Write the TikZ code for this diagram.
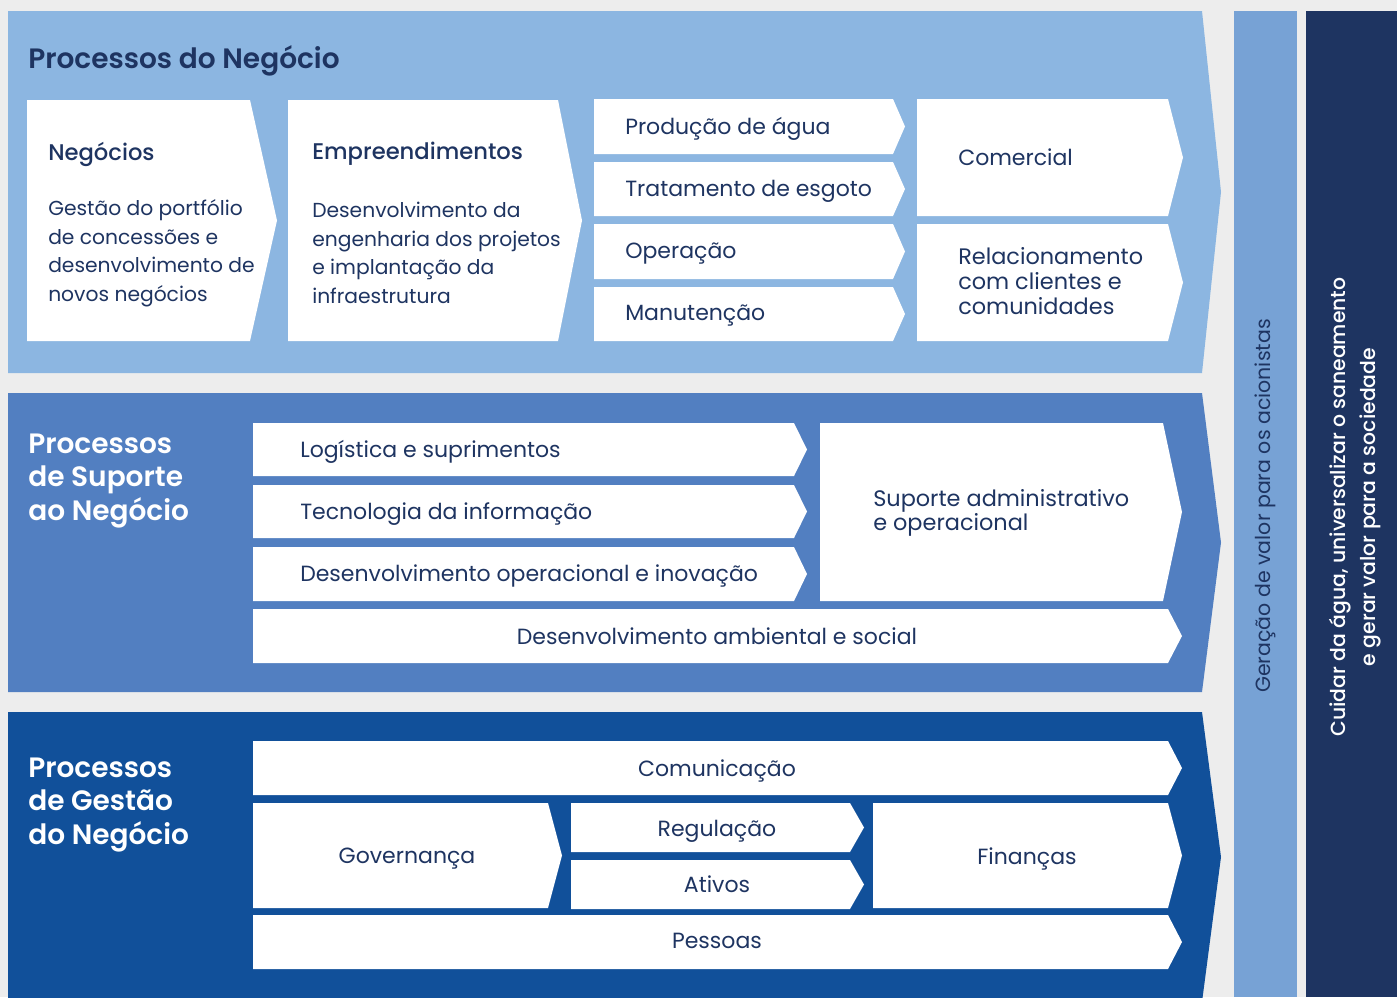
\documentclass[tikz,border=0pt]{standalone}
\usepackage{fontspec}
\setmainfont{Poppins}[BoldFont={Poppins SemiBold}]
\newfontfamily\medfont{Poppins Medium}
\definecolor{bggray}{HTML}{EDEDED}
\definecolor{lightband}{HTML}{8CB6E1}
\definecolor{midband}{HTML}{527FC1}
\definecolor{darkband}{HTML}{11509A}
\definecolor{valcol}{HTML}{77A2D5}
\definecolor{navy}{HTML}{1E3461}
\tikzset{
  bandtitle/.style={font=\fontsize{21}{25.2}\selectfont\bfseries, text=navy, align=left, inner sep=0pt, anchor=west},
  boxhead/.style={font=\fontsize{17}{21}\selectfont\medfont, text=navy, inner sep=0pt, anchor=west, text depth=0pt},
  multitxt/.style={font=\fontsize{15.2}{21.4}\selectfont, text=navy, align=left, inner sep=0pt, anchor=west},
  tighttxt/.style={multitxt, font=\fontsize{16.8}{18.5}\selectfont},
  boxtxt/.style={font=\fontsize{16.5}{20}\selectfont, text=navy, inner sep=0pt, anchor=west, text depth=0pt},
  ctxt/.style={boxtxt, anchor=center},
  sidetxt/.style={font=\fontsize{15.4}{22.5}\selectfont, align=center, inner sep=0pt, rotate=90}
}
% chevron: [colour] x1, y1, x2, y2, tip depth
\newcommand{\chev}[6][white]{%
  \fill[#1] (#2,#3) -- (#4,#3) -- ({#4+#6},{(#3+#5)/2}) -- (#4,#5) -- (#2,#5) -- cycle;}

\begin{document}
\begin{tikzpicture}[x=0.75pt,y=-0.75pt]
  \fill[bggray] (0,0) rectangle (1397,997);
  \useasboundingbox (0,0) rectangle (1397,997);
  \clip (0,0) rectangle (1397,997);

  % bands
  \chev[lightband]{8}{11}{1202}{373}{19}
  \chev[midband]{8}{393}{1202}{692}{19}
  \chev[darkband]{8}{712}{1202}{1002}{19}
  \fill[valcol] (1234,11) rectangle (1297,997);
  \fill[navy] (1306,11) rectangle (1397,997);

  % Processos do Negocio
  \node[bandtitle] (t1) at (28,61) {Processos do Negócio};
  \chev{27}{100}{250}{341}{27}
  \chev{288}{100}{558}{341}{24}
  \foreach \ya/\yb in {99/154,162/216,224/279,287/341} {\chev{594}{\ya}{893}{\yb}{12}}
  \chev{917}{99}{1168}{216}{15}
  \chev{917}{224}{1168}{341}{15}
  \node[boxhead] (neg) at (48,151) {Negócios};
  \node[multitxt] (negtxt) at (48,253) {Gestão do portfólio\\de concessões e\\desenvolvimento de\\novos negócios};
  \node[boxhead] (emp) at (312,151) {Empreendimentos};
  \node[multitxt] (emptxt) at (312,253) {Desenvolvimento da\\engenharia dos projetos\\e implantação da\\infraestrutura};
  \node[boxtxt] (agua) at (625,126) {Produção de água};
  \node[boxtxt] (esgoto) at (625,188) {Tratamento de esgoto};
  \node[boxtxt] (oper) at (625,251) {Operação};
  \node[boxtxt] (manut) at (625,313) {Manutenção};
  \node[boxtxt] (com) at (958,157) {Comercial};
  \node[tighttxt] (rel) at (958,281) {Relacionamento\\com clientes e\\comunidades};

  % Processos de Suporte ao Negocio
  \node[bandtitle, text=white] (t2) at (28,481) {Processos\\de Suporte\\ao Negócio};
  \foreach \ya/\yb in {423/476,485/538,547/601} {\chev{253}{\ya}{794}{\yb}{13}}
  \chev{820}{423}{1163}{601}{19}
  \chev{253}{609}{1168}{663}{14}
  \node[boxtxt] (logi) at (300,449) {Logística e suprimentos};
  \node[boxtxt] (ti) at (300,511) {Tecnologia da informação};
  \node[boxtxt] (dopi) at (300,573) {Desenvolvimento operacional e inovação};
  \node[tighttxt] (adm) at (873,513) {Suporte administrativo\\e operacional};
  \node[ctxt] (amb) at (717,636) {Desenvolvimento ambiental e social};

  % Processos de Gestao do Negocio
  \node[bandtitle, text=white] (t3) at (28,805) {Processos\\de Gestão\\do Negócio};
  \chev{253}{741}{1168}{795}{14}
  \chev{253}{803}{548}{908}{14}
  \chev{571}{803}{850}{852}{14}
  \chev{571}{860}{850}{909}{14}
  \chev{873}{803}{1168}{908}{14}
  \chev{253}{915}{1168}{969}{14}
  \node[ctxt] (comu) at (717,768) {Comunicação};
  \node[ctxt] (gov) at (407,856) {Governança};
  \node[ctxt] (reg) at (717,828) {Regulação};
  \node[ctxt] (ativ) at (717,884) {Ativos};
  \node[ctxt] (fin) at (1027,856) {Finanças};
  \node[ctxt] (pess) at (717,941) {Pessoas};

  % columns on the right
  \node[sidetxt, text=navy] (acion) at (1265,506) {Geração de valor para os acionistas};
  \node[sidetxt, text=white, font=\fontsize{15.3}{22.5}\selectfont\medfont] (soc) at (1355,507) {Cuidar da água, universalizar o saneamento\\e gerar valor para a sociedade};
\end{tikzpicture}
\end{document}
